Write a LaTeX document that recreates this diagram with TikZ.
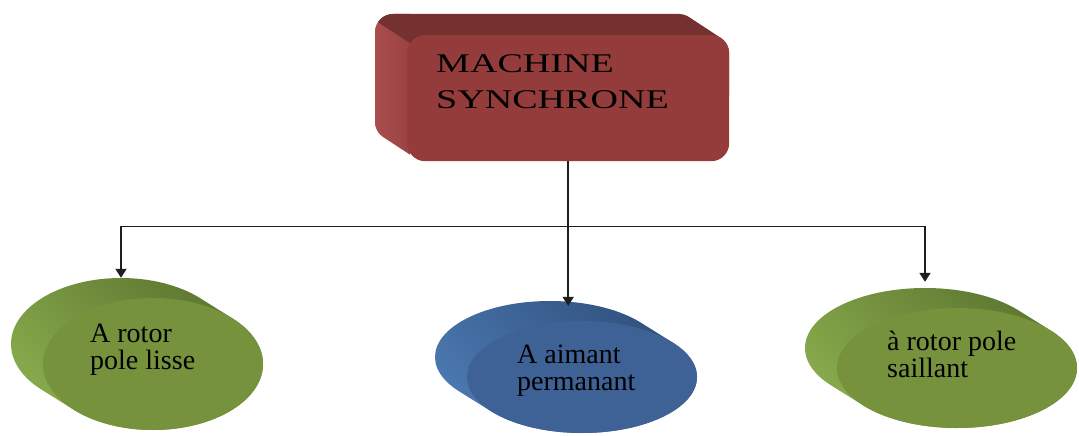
\documentclass[tikz,border=0pt]{standalone}
\usepackage{fontspec}
\setmainfont{Liberation Serif}
\newfontfamily\serifface{Liberation Serif}
\newfontfamily\widefont[FakeStretch=1.41]{Liberation Serif}
\usetikzlibrary{shapes.geometric,arrows.meta,calc}

\definecolor{redfront}{HTML}{943C3B}
\definecolor{redtop}{HTML}{743130}
\definecolor{redside}{HTML}{A54545}
\definecolor{grnfront}{HTML}{76923C}
\definecolor{grnlight}{HTML}{8AAC4D}
\definecolor{grndark}{HTML}{5A732F}
\definecolor{blufront}{HTML}{3E6295}
\definecolor{blulight}{HTML}{4C7AB2}
\definecolor{bludark}{HTML}{2F4F7B}
\definecolor{linkcol}{HTML}{1E1E1E}

\tikzset{
  link/.style={draw=linkcol, line width=1.8pt},
  arrowed/.style={link, -{Triangle[width=11pt,length=9pt]}},
  boxlabel/.style={anchor=base west, inner sep=0pt, text=black,
    font=\widefont\fontsize{27}{35}\selectfont},
  disclabel/.style={anchor=base west, inner sep=0pt, text=black,
    font=\serifface\fontsize{28}{28}\selectfont},
  frontdisc/.style={ellipse, inner sep=0pt, draw=none},
  backdisc/.style={ellipse, inner sep=0pt, draw=none},
}

% extruded disc: front centre, radii, fill colours, name
\newcommand\extdisc[8]{%
  \begin{scope}
    \clip \foreach \k in {0,...,16} {(#1-2*\k, #2-1.25*\k) ellipse [x radius=#3, y radius=#4]};
    \shade[left color=#7, right color=#6, shading angle=-45]
      (#1-#3-40, #2-#4-30) rectangle (#1+#3+10, #2+#4+10);
  \end{scope}
  \node[frontdisc, fill=#5, minimum width=2*#3, minimum height=2*#4] (#8) at (#1,#2) {};
  \node[backdisc, minimum width=2*#3, minimum height=2*#4] (#8back) at (#1-32,#2-20) {};
}

\begin{document}
\begin{tikzpicture}[x=1pt,y=-1pt]
\useasboundingbox (0,0) rectangle (1079,436);

% ---- extruded box
\begin{scope}
  \clip[rounded corners=18pt] \foreach \k in {0,...,32} {(407-\k, 35-\k*21/32) rectangle ++(322,126)};
  \shade[left color=redside!94!white, right color=redside!95!black] (370,0) rectangle (410,170);
  \begin{scope}
    \clip (329,-10) -- (489,95) -- (800,95) -- (800,-10) -- cycle;
    \fill[redtop] (350,0) rectangle (740,170);
  \end{scope}
\end{scope}
\node[fill=redfront, rounded corners=18pt, minimum width=322pt, minimum height=126pt,
      inner sep=0pt, anchor=north west] (ms) at (407,35) {};
\node[boxlabel] (msa) at (436,73) {MACHINE};
\node[boxlabel] (msb) at (436,108) {SYNCHRONE};

% ---- discs
\extdisc{153}{364}{110}{66}{grnfront}{grnlight}{grndark}{lisse}
\extdisc{582}{377}{115}{56}{blufront}{blulight}{bludark}{aimant}
\extdisc{957}{368}{120}{60}{grnfront}{grnlight}{grndark}{saillant}

\node[disclabel] (la) at (90,342) {A rotor};
\node[disclabel] (lb) at (90,369) {pole lisse};
\node[disclabel] (ma) at (517,363) {A aimant};
\node[disclabel] (mb) at (517,390) {permanant};
\node[disclabel] (ra) at (887,350) {à rotor pole};
\node[disclabel] (rb) at (887,377) {saillant};

% ---- connectors
\coordinate (split) at ($(ms.south)+(0,65)$);
\coordinate (lsplit) at (split -| lisseback.north);
\coordinate (rsplit) at (split -| saillantback.north);
\draw[link] (lsplit) -- (rsplit);
\draw[arrowed, shorten >=-5pt] (ms.south) -- (ms.south |- aimantback.north);
\draw[arrowed] (lsplit) -- (lisseback.north);
\draw[arrowed, shorten >=6pt] (rsplit) -- (saillantback.north);
\end{tikzpicture}
\end{document}
